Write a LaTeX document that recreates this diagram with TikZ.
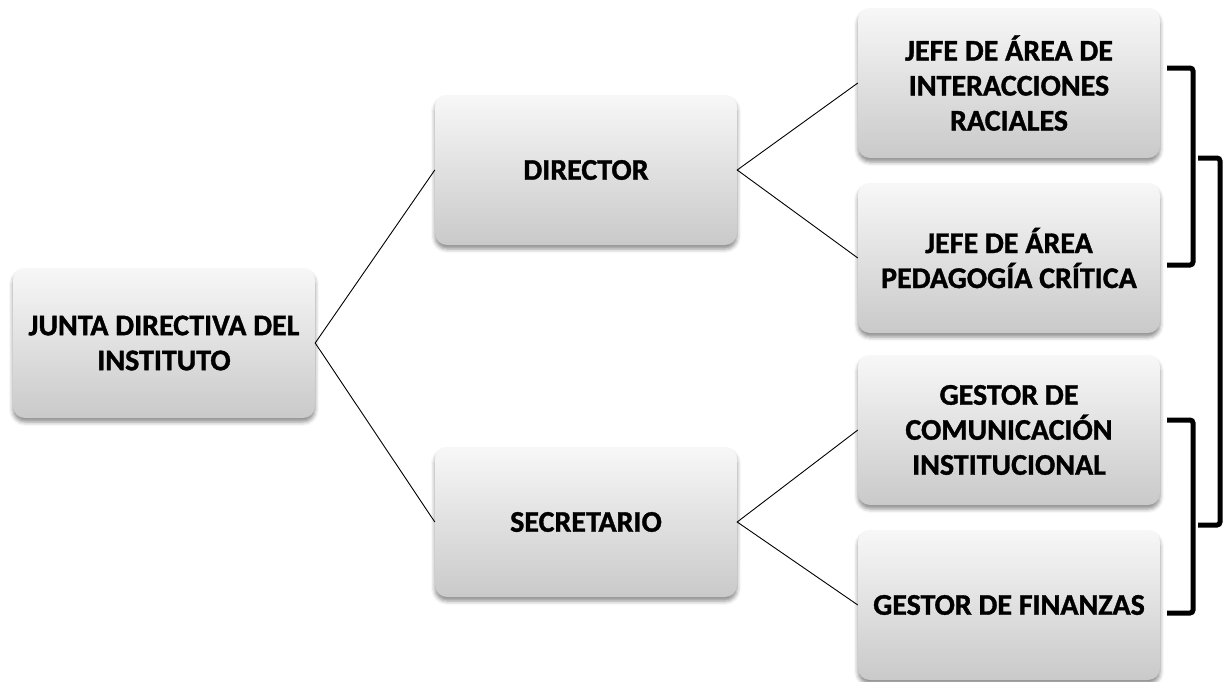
\documentclass[tikz,border=0pt]{standalone}
\usepackage{fontspec}
\setmainfont{Carlito}[BoldFeatures={FakeBold=1.2}]
\usetikzlibrary{shadows.blur}
\tikzset{
  orgbox/.style={rounded corners=12pt, minimum width=302pt, minimum height=150pt,
    top color=gray!6, bottom color=gray!42, draw=none, align=center,
    font=\fontsize{30}{35}\selectfont\bfseries, inner sep=2pt,
    blur shadow={shadow xshift=0pt, shadow yshift=-4pt, shadow blur radius=4pt, shadow opacity=45}},
  link/.style={line width=0.9pt, black},
  brack/.style={line width=5pt, rounded corners=3pt, black}
}
\begin{document}
\begin{tikzpicture}[x=1pt, y=-1pt]
\useasboundingbox (0,0) rectangle (1232,681);
\node[orgbox] (junta) at (164,343) {JUNTA DIRECTIVA DEL\\INSTITUTO};
\node[orgbox] (dir) at (586,170) {DIRECTOR};
\node[orgbox] (sec) at (586,522) {SECRETARIO};
\node[orgbox] (j1) at (1009,83) {JEFE DE ÁREA DE\\INTERACCIONES\\RACIALES};
\node[orgbox] (j2) at (1009,258) {JEFE DE ÁREA\\PEDAGOGÍA CRÍTICA};
\node[orgbox] (g1) at (1009,430) {GESTOR DE\\COMUNICACIÓN\\INSTITUCIONAL};
\node[orgbox] (g2) at (1009,605) {GESTOR DE FINANZAS};
\draw[link] (dir.west) -- (junta.east) -- (sec.west);
\draw[link] (j1.west) -- (dir.east) -- (j2.west);
\draw[link] (g1.west) -- (sec.east) -- (g2.west);
\draw[brack] (1167,68) -- (1193,68) -- (1193,265) -- (1167,265);
\draw[brack] (1198,158) -- (1220,158) -- (1220,525) -- (1198,525);
\draw[brack] (1167,420) -- (1193,420) -- (1193,613) -- (1167,613);
\end{tikzpicture}
\end{document}
